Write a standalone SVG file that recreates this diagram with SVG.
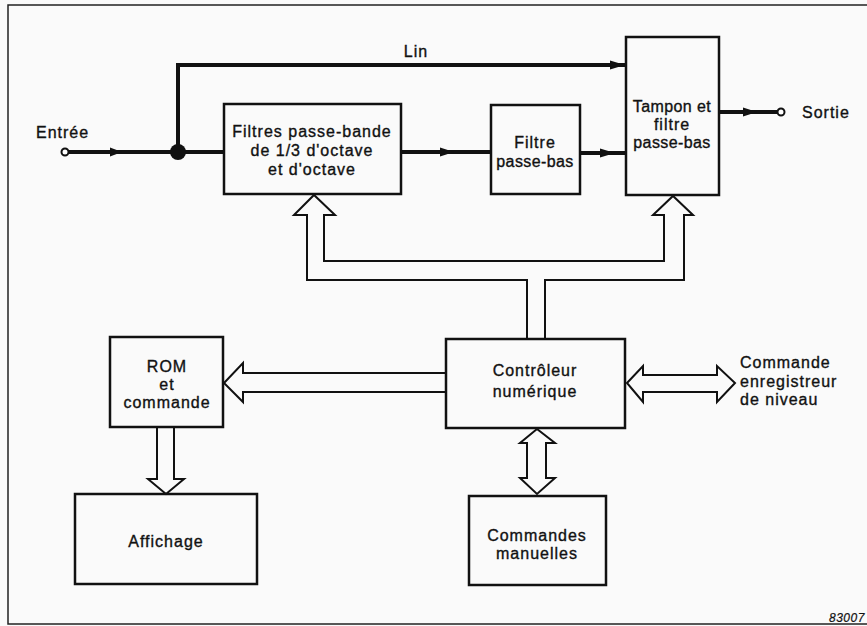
<svg xmlns="http://www.w3.org/2000/svg" width="867" height="626" viewBox="0 0 867 626">
<style>
text{font-family:"Liberation Sans",Arial,sans-serif;font-size:16px;letter-spacing:1px;fill:#111;stroke:#111;stroke-width:0.35px;}
.c{text-anchor:middle;}
.box{fill:none;stroke:#111;stroke-width:2.5;}
.sig{fill:none;stroke:#111;stroke-width:4;}
.bus{fill:#fafafa;stroke:#111;stroke-width:2;stroke-linejoin:miter;}
.ah{fill:#111;stroke:none;}
.term{fill:#fff;stroke:#111;stroke-width:2;}
</style>
<rect x="0" y="0" width="867" height="626" fill="#fafafa"/>
<path d="M867,5 H8 V624 H867" fill="none" stroke="#222" stroke-width="1.5"/>

<g id="connectors">
  <!-- input -->
  <line class="sig" x1="68" y1="152" x2="224" y2="152"/>
  <polygon class="ah" points="110,147.5 122,152 110,156.5"/>
  <circle cx="178" cy="152" r="8" fill="#111"/>
  <!-- Lin bypass -->
  <polyline class="sig" points="178,152 178,65 625,65"/>
  <polygon class="ah" points="610,60.5 625,65 610,69.5"/>
  <!-- filter1 -> filter2 -->
  <line class="sig" x1="401" y1="152" x2="491" y2="152"/>
  <polygon class="ah" points="440,147.5 454,152 440,156.5"/>
  <!-- filter2 -> tampon -->
  <line class="sig" x1="580" y1="153" x2="626" y2="153"/>
  <polygon class="ah" points="600,148.5 615,153 600,157.5"/>
  <!-- output -->
  <line class="sig" x1="719" y1="112" x2="777" y2="112"/>
  <polygon class="ah" points="743,107.5 757,112 743,116.5"/>
  <!-- bus controller -> filters -->
  <path class="bus" d="M527,338 V280 H307 V215 H294 L314,195 L335,215 H324 V261 H664 V215 H653 L673,196 L693,215 H684 V280 H545 V338"/>
  <!-- controller -> ROM -->
  <path class="bus" d="M446,373 H243 V363 L224,383 L243,402 V392 H446"/>
  <!-- ROM -> Affichage -->
  <path class="bus" d="M157,428 V479 H148 L166,494 L184,479 H174 V428"/>
  <!-- controller <-> external -->
  <path class="bus" d="M627,383 L643,366 V375 H717 V366 L735,383 L717,402 V392 H643 V402 Z"/>
  <!-- controller <-> manual -->
  <path class="bus" d="M537,429 L555,443 H546 V478 H555 L537,494 L520,478 H527 V443 H520 Z"/>
</g>

<g id="entree">
  <circle class="term" cx="65" cy="152" r="3.5"/>
  <text x="36" y="138">Entrée</text>
</g>
<g id="lin">
  <text class="c" x="416" y="57">Lin</text>
</g>
<g id="filtres">
  <rect class="box" x="224" y="104" width="177" height="90"/>
  <text class="c" x="312" y="137">Filtres passe-bande</text>
  <text class="c" x="312" y="156">de 1/3 d'octave</text>
  <text class="c" x="312" y="175">et d'octave</text>
</g>
<g id="filtre-passe-bas">
  <rect class="box" x="491" y="105" width="89" height="89"/>
  <text class="c" x="535" y="148">Filtre</text>
  <text class="c" x="535" y="167" style="letter-spacing:0.4px">passe-bas</text>
</g>
<g id="tampon">
  <rect class="box" x="626" y="37" width="93" height="158"/>
  <text class="c" x="672" y="112" style="letter-spacing:0.4px">Tampon et</text>
  <text class="c" x="672" y="130">filtre</text>
  <text class="c" x="672" y="148" style="letter-spacing:0.4px">passe-bas</text>
</g>
<g id="sortie">
  <circle class="term" cx="781" cy="112" r="3.5"/>
  <text x="802" y="118">Sortie</text>
</g>
<g id="rom">
  <rect class="box" x="110" y="337" width="113" height="90"/>
  <text class="c" x="167" y="372">ROM</text>
  <text class="c" x="167" y="390">et</text>
  <text class="c" x="167" y="408">commande</text>
</g>
<g id="controleur">
  <rect class="box" x="446" y="339" width="179" height="89"/>
  <text class="c" x="535" y="376">Contrôleur</text>
  <text class="c" x="535" y="397">numérique</text>
</g>
<g id="commande-externe">
  <text x="740" y="368">Commande</text>
  <text x="740" y="387">enregistreur</text>
  <text x="740" y="405">de niveau</text>
</g>
<g id="affichage">
  <rect class="box" x="75" y="494" width="182" height="90"/>
  <text class="c" x="166" y="547">Affichage</text>
</g>
<g id="commandes-manuelles">
  <rect class="box" x="469" y="496" width="137" height="89"/>
  <text class="c" x="537" y="541">Commandes</text>
  <text class="c" x="537" y="559">manuelles</text>
</g>
<text x="829" y="622" style="font-size:12px;font-style:italic;letter-spacing:0.5px;stroke-width:0.2px">83007</text>
</svg>
